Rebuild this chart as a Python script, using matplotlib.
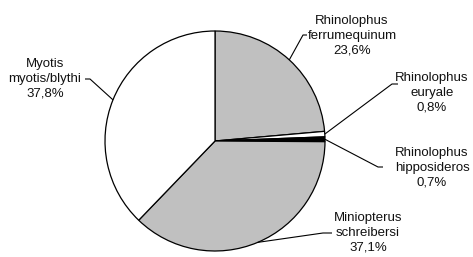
import numpy as np
import matplotlib
matplotlib.use("Agg")
import matplotlib.pyplot as plt

plt.rcParams['font.family'] = ['Liberation Sans', 'DejaVu Sans']

labels = ["Rhinolophus\nferrumequinum", "Rhinolophus\neuryale", "Rhinolophus\nhipposideros",
          "Miniopterus\nschreibersi", "Myotis\nmyotis/blythi"]
values = [23.6, 0.8, 0.7, 37.1, 37.8]
colors = ["#c0c0c0", "#ffffff", "#000000", "#c0c0c0", "#ffffff"]

W, H = 473, 257
fig = plt.figure(figsize=(W / 100, H / 100), dpi=100)
ax = fig.add_axes([0, 0, 1, 1])

cx, cy, R = 215, H - 141, 110
wedges, _ = ax.pie(values, colors=colors, startangle=90, counterclock=False,
                   center=(cx, cy), radius=R, frame=True,
                   wedgeprops=dict(edgecolor='black', linewidth=0.9))
ax.set_xlim(0, W)
ax.set_ylim(0, H)
ax.set_aspect('equal')
ax.axis('off')

# label layout: text center (x, y-from-top), knee point, end of horizontal dash
layout = [
    dict(text=(352, 36), knee=(303, 35), dash=(307, 35)),
    dict(text=(432, 93), knee=(392, 84), dash=(398, 84)),
    dict(text=(432, 168), knee=(378, 167), dash=(383, 167)),
    dict(text=(368, 233), knee=(323, 233), dash=(332, 233)),
    dict(text=(45, 79), knee=(90, 79), dash=(85, 79)),
]

for w, lab, v, lay in zip(wedges, labels, values, layout):
    ang = np.deg2rad((w.theta1 + w.theta2) / 2)
    px = cx + R * np.cos(ang)
    py = cy + R * np.sin(ang)
    kx, ky = lay['knee']
    dx, dy = lay['dash']
    ax.plot([px, kx, dx], [py, H - ky, H - dy], color='black', lw=0.8,
            solid_capstyle='butt', zorder=5)
    tx, ty = lay['text']
    txt = f"{lab}\n{v:.1f}%".replace('.', ',')
    ax.text(tx, H - ty, txt, ha='center', va='center', fontsize=9.5,
            color='#111111', linespacing=1.32)

fig.savefig("out.png", dpi=100)
